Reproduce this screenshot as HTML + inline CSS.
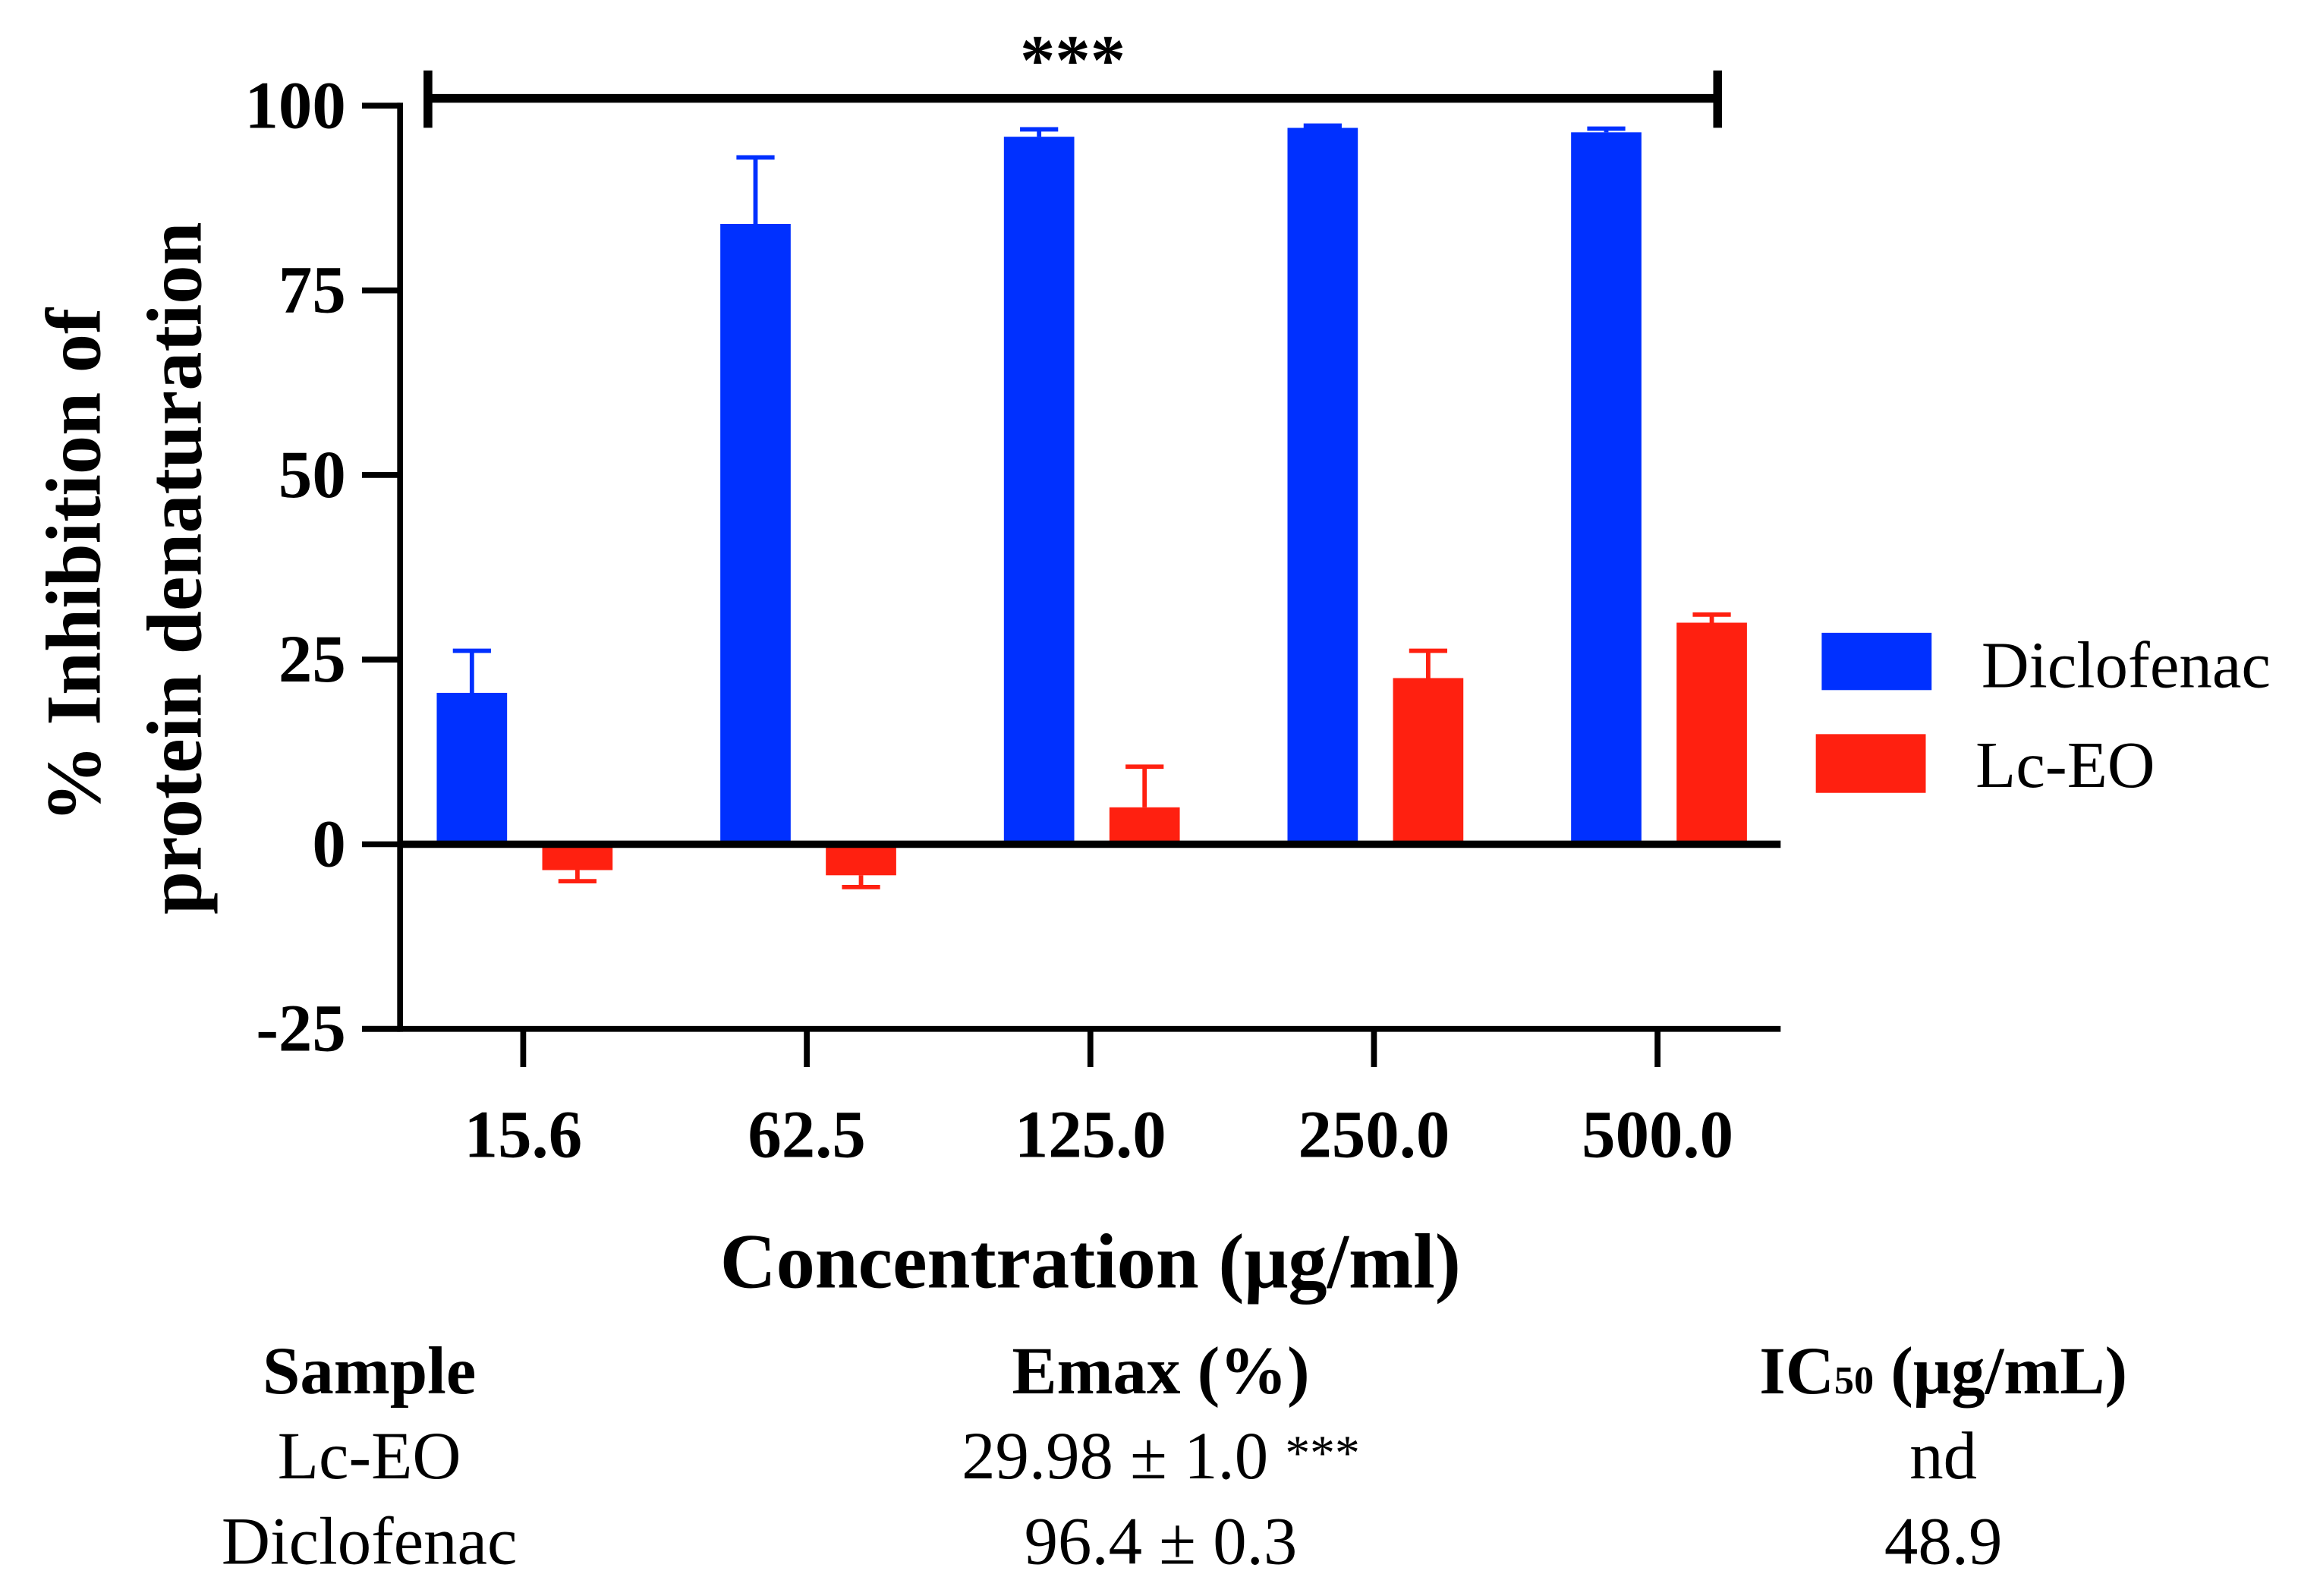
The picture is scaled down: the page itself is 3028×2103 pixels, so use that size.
<!DOCTYPE html>
<html><head><meta charset="utf-8"><style>
html,body{margin:0;padding:0;background:#fff;}
svg{display:block;}
text{font-family:"Liberation Serif",serif;fill:#000;}
</style></head><body>
<svg id="chart" width="3028" height="2103" viewBox="0 0 1568 1087" preserveAspectRatio="none" xmlns="http://www.w3.org/2000/svg">
<g id="plot"></g>
<g>
<line x1="292" y1="67" x2="1172" y2="67" stroke="#000" stroke-width="6"/>
<line x1="292" y1="48" x2="292" y2="87" stroke="#000" stroke-width="6"/>
<line x1="1172" y1="48" x2="1172" y2="87" stroke="#000" stroke-width="6"/>
<text x="732" y="57" text-anchor="middle" font-size="48" font-weight="bold">***</text>
</g>
<g font-weight="bold" font-size="53">
<text transform="translate(68,385) rotate(-90)" text-anchor="middle">%  Inhibition of</text>
<text transform="translate(137,387) rotate(-90)" text-anchor="middle">protein denaturation</text>
</g>
<text x="744" y="877" text-anchor="middle" font-size="53" font-weight="bold">Concentration (μg/ml)</text>
<g>
<rect x="1243" y="431" width="75" height="39" fill="#0030ff"/>
<text x="1352" y="468" font-size="45">Diclofenac</text>
<rect x="1239" y="500" width="75" height="40" fill="#ff2010"/>
<text x="1348" y="536" font-size="45">Lc-EO</text>
</g>
<g font-size="46" text-anchor="middle">
<text x="252" y="949" font-weight="bold">Sample</text>
<text x="792" y="949" font-weight="bold">Emax (%)</text>
<text x="1326" y="949" font-weight="bold">IC<tspan font-size="27">50</tspan> (μg/mL)</text>
<text x="252" y="1007">Lc-EO</text>
<text x="792" y="1007">29.98 ± 1.0 <tspan font-size="34" dy="-6">***</tspan></text>
<text x="1326" y="1007">nd</text>
<text x="252" y="1065">Diclofenac</text>
<text x="792" y="1065">96.4 ± 0.3</text>
<text x="1326" y="1065">48.9</text>
</g>
</svg>
<script>
const categories = ["15.6","62.5","125.0","250.0","500.0"];
const diclofenac = [20.5, 84, 95.8, 97, 96.4];
const diclofenacErr = [5.7, 9, 1, 0.3, 0.5];
const lceo = [-3.5, -4.2, 5, 22.5, 30];
const lceoErr = [-1.5, -1.6, 5.5, 3.7, 1.1];
const yTicks = [100, 75, 50, 25, 0, -25];

const NS = "http://www.w3.org/2000/svg";
const g = document.getElementById('plot');
const y = v => 575 - v * (503 / 100);
const x = i => 357 + i * 193.5;
function mk(tag, attrs, parent) {
  const e = document.createElementNS(NS, tag);
  for (const k in attrs) e.setAttribute(k, attrs[k]);
  (parent || g).appendChild(e);
  return e;
}
function bar(v, e, cx, color, name) {
  const top = Math.min(y(v), y(0)), h = Math.abs(y(v) - y(0));
  const r = mk('rect', {x: cx - 24, y: top, width: 48, height: h, fill: color});
  
  
  const eb = mk('g', {stroke: color, 'stroke-width': 3});
  
  
  mk('line', {x1: cx, y1: y(v), x2: cx, y2: y(v + e)}, eb);
  mk('line', {x1: cx - 13, y1: y(v + e), x2: cx + 13, y2: y(v + e)}, eb);
}
categories.forEach((c, i) => {
  bar(diclofenac[i], diclofenacErr[i], x(i) - 35, '#0030ff', 'bar-diclofenac-' + c);
  bar(lceo[i], lceoErr[i], x(i) + 37, '#ff2010', 'bar-lceo-' + c);
});
const ya = mk('line', {x1: 273, y1: y(100) - 2, x2: 273, y2: y(-25) + 2, stroke: '#000', 'stroke-width': 4});


const z = mk('line', {x1: 273, y1: y(0), x2: 1215, y2: y(0), stroke: '#000', 'stroke-width': 5});


const xa = mk('line', {x1: 247, y1: y(-25), x2: 1215, y2: y(-25), stroke: '#000', 'stroke-width': 4});


yTicks.forEach(t => {
  mk('line', {x1: 247, y1: y(t), x2: 273, y2: y(t), stroke: '#000', 'stroke-width': 4});
  const tx = mk('text', {x: 236, y: y(t) + 15, 'text-anchor': 'end', 'font-size': 46, 'font-weight': 'bold'});
  tx.textContent = t;
  
  
});
categories.forEach((c, i) => {
  mk('line', {x1: x(i), y1: y(-25), x2: x(i), y2: y(-25) + 26, stroke: '#000', 'stroke-width': 4});
  const tx = mk('text', {x: x(i), y: 788, 'text-anchor': 'middle', 'font-size': 46, 'font-weight': 'bold'});
  tx.textContent = c;
  
  
});
</script>
</body></html>
